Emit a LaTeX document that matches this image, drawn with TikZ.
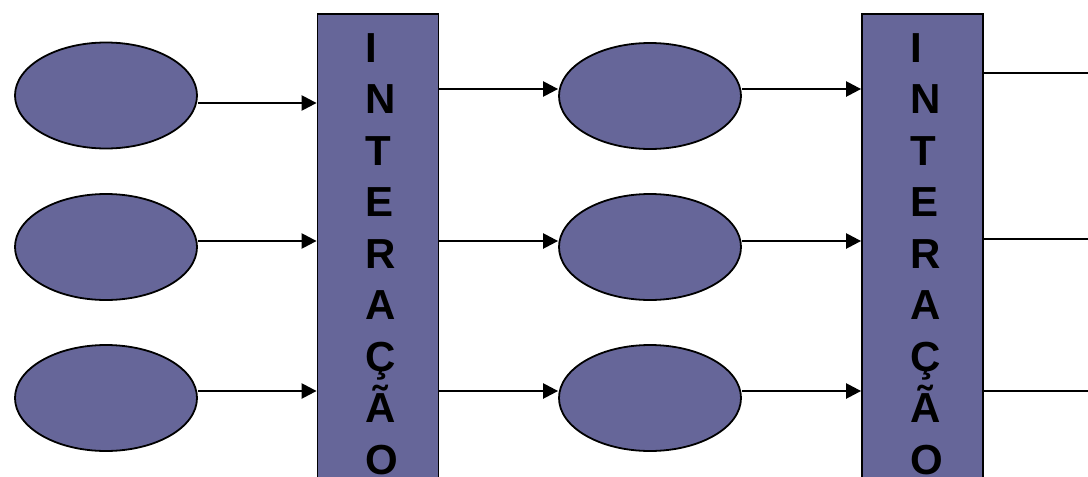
\documentclass[tikz,border=0pt]{standalone}
\usepackage{fontspec}
\setmainfont{Liberation Sans}
\usetikzlibrary{arrows.meta,calc,shapes.geometric}
\definecolor{boxfill}{HTML}{666699}
\begin{document}
\begin{tikzpicture}[x=1pt,y=-1pt,
  oval/.style={ellipse,draw=black,line width=1.8pt,fill=boxfill,minimum width=182pt,minimum height=106pt,inner sep=0pt},
  bar/.style={rectangle,draw=black,line width=1.8pt,fill=boxfill,minimum width=121pt,minimum height=480pt,inner sep=0pt,anchor=north},
  word/.style={align=left,inner sep=0pt,anchor=north west,font=\fontsize{42}{51.5}\selectfont\bfseries},
  arr/.style={line width=2.4pt,-{Triangle[length=15pt,width=15pt]}},
  plain/.style={line width=2.4pt}]
\useasboundingbox (0,0) rectangle (1088,477);
\clip (0,0) rectangle (1088,477);
% row levels
\coordinate (a1) at (0,103);
\coordinate (a2) at (0,241);
\coordinate (a3) at (0,391);
\coordinate (b1) at (0,89);
\coordinate (b2) at (0,241);
\coordinate (b3) at (0,391);
\coordinate (c1) at (1088,73);
\coordinate (c2) at (1088,239);
\coordinate (c3) at (1088,391);
% left ellipses
\node[oval] (e1) at (106,95.5) {};
\node[oval] (e2) at (106,247) {};
\node[oval] (e3) at (106,398) {};
% middle ellipses
\node[oval] (m1) at (650,96) {};
\node[oval] (m2) at (650,247) {};
\node[oval] (m3) at (650,398) {};
% bars
\node[bar] (r1) at (378,13) {};
\node[bar] (r2) at (922.5,13) {};
\node[word] (t1) at ($(r1.north west)+(49,20)$) {I\\N\\T\\E\\R\\A\\Ç\\Ã\\O};
\node[word] (t2) at ($(r2.north west)+(49,20)$) {I\\N\\T\\E\\R\\A\\Ç\\Ã\\O};
% connectors
\draw[arr] (e1.east |- a1) -- (r1.west |- a1);
\draw[arr] (e2.east |- a2) -- (r1.west |- a2);
\draw[arr] (e3.east |- a3) -- (r1.west |- a3);
\draw[arr] (r1.east |- b1) -- (m1.west |- b1);
\draw[arr] (r1.east |- b2) -- (m2.west |- b2);
\draw[arr] (r1.east |- b3) -- (m3.west |- b3);
\draw[arr] (m1.east |- b1) -- (r2.west |- b1);
\draw[arr] (m2.east |- b2) -- (r2.west |- b2);
\draw[arr] (m3.east |- b3) -- (r2.west |- b3);
\draw[plain] (r2.east |- c1) -- (c1);
\draw[plain] (r2.east |- c2) -- (c2);
\draw[plain] (r2.east |- c3) -- (c3);
\end{tikzpicture}
\end{document}
